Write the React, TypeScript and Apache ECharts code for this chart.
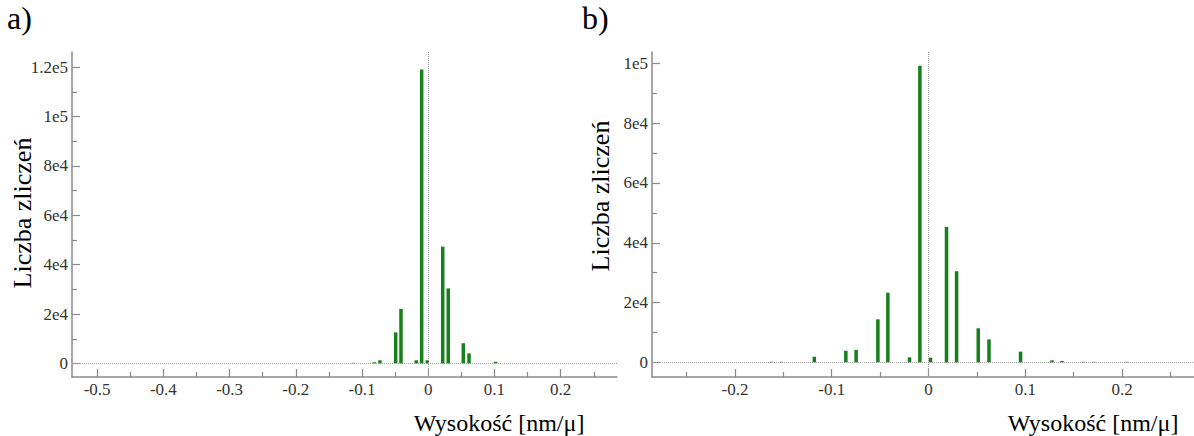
import { useEffect, useRef } from "react";
import * as echarts from "echarts";

// Histogram a) — bin centres [nm/μ] and counts
const leftBins = [-0.1133, -0.0816, -0.073, -0.0492, -0.0412, -0.0181, -0.01, -0.0015, 0.0218, 0.0302, 0.0529, 0.0615, 0.1017];
const leftCounts = [250, 500, 1300, 12600, 22100, 1300, 119000, 1300, 47300, 30400, 8200, 4100, 700];

// Histogram b) — bin centres [nm/μ] and counts
const rightBins = [-0.162, -0.152, -0.118, -0.0854, -0.0748, -0.0523, -0.042, -0.0196, -0.0089, 0.0021, 0.0186, 0.029, 0.0514, 0.0625, 0.0951, 0.1276, 0.138, 0.16, 0.171, 0.205];
const rightCounts = [200, 200, 1900, 3900, 4200, 14400, 23300, 1700, 99200, 1600, 45300, 30500, 11400, 7700, 3600, 700, 500, 200, 200, 200];

// Tick values and labels
const leftXTicks = [-0.5, -0.4, -0.3, -0.2, -0.1, 0, 0.1, 0.2];
const leftXLabels = ["-0.5", "-0.4", "-0.3", "-0.2", "-0.1", "0", "0.1", "0.2"];
const leftXMinor = [-0.45, -0.35, -0.25, -0.15, -0.05, 0.05, 0.15, 0.25];
const leftYTicks = [0, 20000, 40000, 60000, 80000, 100000, 120000];
const leftYLabels = ["0", "2e4", "4e4", "6e4", "8e4", "1e5", "1.2e5"];
const leftYMinor = [10000, 30000, 50000, 70000, 90000, 110000];

const rightXTicks = [-0.2, -0.1, 0, 0.1, 0.2];
const rightXLabels = ["-0.2", "-0.1", "0", "0.1", "0.2"];
const rightXMinor = [-0.25, -0.15, -0.05, 0.05, 0.15, 0.25];
const rightYTicks = [0, 20000, 40000, 60000, 80000, 100000];
const rightYLabels = ["0", "2e4", "4e4", "6e4", "8e4", "1e5"];
const rightYMinor = [10000, 30000, 50000, 70000, 90000];

const xTitle = "Wysokość [nm/μ]";
const yTitle = "Liczba zliczeń";
const panelLabels = ["a)", "b)"];

const FONT = "Liberation Serif";
const AXIS_COLOR = "#8a8a8a";
const BAR_COLOR = "#16801a";

function lookup(values: number[], labels: string[]) {
  return (v: number) => {
    const i = values.findIndex((m) => Math.abs(m - v) < 1e-9);
    return i >= 0 ? labels[i] : "";
  };
}

function axisPair(
  dim: "x" | "y",
  gridIndex: number,
  min: number,
  max: number,
  splitNumber: number,
  major: number[],
  labels: string[],
  minor: number[]
) {
  const position = dim === "x" ? "bottom" : "left";
  const main = {
    type: "value",
    gridIndex,
    position,
    min,
    max,
    splitNumber,
    splitLine: { show: false },
    axisLine: { show: true, onZero: false, lineStyle: { color: AXIS_COLOR, width: 1.5 } },
    axisTick: {
      show: true,
      inside: true,
      length: 8,
      customValues: major,
      lineStyle: { color: AXIS_COLOR, width: 1.2 },
    },
    axisLabel: {
      show: true,
      formatter: lookup(major, labels),
      fontFamily: FONT,
      fontSize: 17,
      color: "#333333",
      margin: 4,
    },
  };
  const sub = {
    type: "value",
    gridIndex,
    position,
    min,
    max,
    splitLine: { show: false },
    axisLine: { show: false, onZero: false },
    axisTick: {
      show: true,
      inside: true,
      length: 5,
      customValues: minor,
      lineStyle: { color: AXIS_COLOR, width: 1.2 },
    },
    axisLabel: { show: false },
  };
  return [main, sub];
}

function histSeries(gridNo: number, bins: number[], counts: number[]) {
  return {
    type: "bar",
    xAxisIndex: gridNo * 2,
    yAxisIndex: gridNo * 2,
    barWidth: 3.5,
    data: bins.map((b, i) => [b, counts[i]]),
    itemStyle: { color: BAR_COLOR },
    markLine: {
      silent: true,
      symbol: "none",
      label: { show: false },
      lineStyle: { type: "dotted", color: "#a0a0a0", width: 1 },
      data: [{ yAxis: 0 }, { xAxis: 0 }],
    },
  };
}

export default function App() {
  const ref = useRef<HTMLDivElement>(null);

  useEffect(() => {
    if (!ref.current) return;
    const chart = echarts.init(ref.current, undefined, { renderer: "svg" });

    const textStyle = (size: number) => ({
      fontFamily: FONT,
      fontSize: size,
      fill: "#000",
    });

    // The canvas is wider than the page; panel b) runs off its right edge.
    chart.setOption({
      animation: false,
      backgroundColor: "#ffffff",
      textStyle: { fontFamily: FONT },
      grid: [
        { left: 72, top: 52, right: 593, bottom: 59, containLabel: false },
        { left: 652, top: 52, right: 5, bottom: 59, containLabel: false },
      ],
      xAxis: [
        ...axisPair("x", 0, -0.538, 0.285, 8, leftXTicks, leftXLabels, leftXMinor),
        ...axisPair("x", 1, -0.2857, 0.2857, 5, rightXTicks, rightXLabels, rightXMinor),
      ],
      yAxis: [
        ...axisPair("y", 0, -5470, 126100, 6, leftYTicks, leftYLabels, leftYMinor),
        ...axisPair("y", 1, -4880, 103800, 6, rightYTicks, rightYLabels, rightYMinor),
      ],
      series: [histSeries(0, leftBins, leftCounts), histSeries(1, rightBins, rightCounts)],
      graphic: [
        { type: "text", x: 7, y: 2, style: { text: panelLabels[0], ...textStyle(32) } },
        { type: "text", x: 582, y: 2, style: { text: panelLabels[1], ...textStyle(32) } },
        {
          type: "text",
          x: 499,
          y: 423,
          style: { text: xTitle, textAlign: "center", textVerticalAlign: "middle", ...textStyle(24) },
        },
        {
          type: "text",
          x: 1093,
          y: 423,
          style: { text: xTitle, textAlign: "center", textVerticalAlign: "middle", ...textStyle(24) },
        },
        {
          type: "text",
          x: 22,
          y: 213,
          rotation: Math.PI / 2,
          style: { text: yTitle, textAlign: "center", textVerticalAlign: "middle", ...textStyle(26) },
        },
        {
          type: "text",
          x: 600,
          y: 196,
          rotation: Math.PI / 2,
          style: { text: yTitle, textAlign: "center", textVerticalAlign: "middle", ...textStyle(26) },
        },
      ],
    });

    return () => chart.dispose();
  }, []);

  return (
    <div
      ref={ref}
      style={{ position: "fixed", left: 0, top: 0, width: 1210, height: 436 }}
    />
  );
}
